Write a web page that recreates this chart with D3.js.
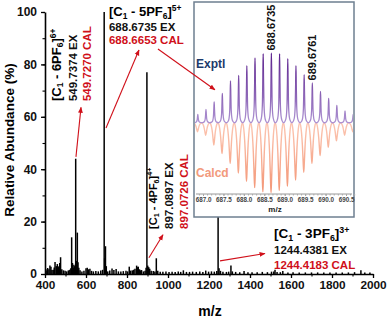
<!DOCTYPE html>
<html>
<head>
<meta charset="utf-8">
<script src="https://cdn.jsdelivr.net/npm/d3@7"></script>
<style>
  html, body { margin: 0; padding: 0; background: #fff; }
  svg { display: block; font-family: Arial, "Liberation Sans", sans-serif; font-weight: bold; }
</style>
</head>
<body>
<svg id="chart" width="387" height="318"></svg>
<script>
// ---- main spectrum (m/z, relative abundance %) ----
const peakMz = [405, 410, 413, 419, 424, 429, 434, 440, 445, 449, 455, 460, 465, 468, 472, 476, 482, 490, 498, 506,
  514, 521, 526, 530, 534, 538, 541, 545, 549.7, 553, 557.7, 561, 565, 571, 580, 590, 600, 606, 612, 619,
  627, 636, 648, 660, 672, 681, 688.7, 691, 695, 699, 706, 716, 727, 736, 747, 758, 770, 782, 795, 803,
  811, 818, 826, 833, 839, 847, 851, 855, 861, 867, 871, 880, 888, 893, 897.1, 901, 906, 911, 918, 928,
  936, 943, 950, 962, 975, 990, 1005, 1020, 1035, 1050, 1062, 1075, 1090, 1105, 1120, 1138, 1155, 1170, 1184, 1198,
  1212, 1226, 1238, 1244.4, 1249, 1256, 1268, 1285, 1296, 1307, 1314, 1330, 1350, 1371, 1390, 1410, 1435, 1460, 1485, 1505,
  1516, 1522, 1532, 1548, 1560, 1585, 1610, 1640, 1670, 1700, 1730, 1760, 1790, 1820, 1850, 1880, 1910, 1941, 1960, 1985];
const peakInt = [1.2, 1.8, 2.3, 1.8, 3.2, 2.8, 1.5, 1.6, 2.5, 4.6, 3.0, 3.8, 2.6, 3.0, 4.2, 6.4, 1.8, 1.4, 1.2, 1.0,
  1.4, 1.6, 2.2, 14, 4.2, 2.4, 3.5, 3.0, 44, 5.0, 15.8, 4.5, 2.4, 1.4, 1.0, 1.2, 2.2, 2.4, 1.8, 2.0,
  1.2, 1.0, 1.1, 1.0, 1.3, 1.6, 100, 6, 10.6, 3, 1.0, 1.3, 2.1, 1.5, 1.9, 1.0, 1.0, 1.1, 1.2, 1.0,
  2.8, 1.3, 1.4, 1.6, 2.0, 3.2, 2.6, 2.8, 1.8, 1.4, 1.5, 1.0, 1.2, 2.4, 77, 3.2, 2.6, 2.0, 1.2, 1.1,
  1.0, 6.0, 1.2, 0.9, 0.9, 1.0, 0.8, 0.9, 0.8, 1.0, 0.8, 1.4, 0.8, 0.8, 0.9, 0.8, 1.0, 0.8, 1.3, 0.9,
  1.0, 0.9, 1.1, 22, 2.2, 1.2, 0.9, 0.8, 0.9, 3.2, 1.0, 0.8, 0.7, 1.1, 0.7, 0.7, 0.7, 0.8, 0.7, 0.9,
  1.0, 1.6, 0.8, 0.7, 1.1, 0.6, 0.7, 0.6, 0.6, 0.6, 0.6, 0.6, 0.6, 0.6, 0.6, 0.6, 0.7, 1.4, 0.6, 0.6];

const xTicks = [400, 600, 800, 1000, 1200, 1400, 1600, 1800, 2000];
const xMinorTicks = d3.range(400, 2001, 100);
const yTicks = [0, 20, 40, 60, 80, 100];
const yMinorTicks = d3.range(0, 101, 10);

// ---- inset: isotope pattern of [C1 - 5PF6]5+ ----
const exptMz = [686.873, 687.073, 687.273, 687.473, 687.673, 687.873, 688.073, 688.273, 688.473, 688.6735,
  688.874, 689.075, 689.275, 689.476, 689.6761, 689.876, 690.076, 690.276, 690.476, 690.676];
const exptInt = [12, 19, 30, 42, 60, 68, 82, 93, 99, 100, 99, 92, 82, 69, 57, 45, 35, 25, 17, 12];
const calcMz = [686.865, 687.065, 687.265, 687.465, 687.665, 687.865, 688.065, 688.265, 688.465, 688.6653,
  688.866, 689.066, 689.266, 689.466, 689.666, 689.866, 690.066, 690.266, 690.466, 690.666];
const calcInt = [13, 18, 32, 44, 58, 72, 84, 93, 99, 100, 97, 91, 82, 71, 58, 47, 35, 26, 18, 13];
const insetTicks = [687.0, 687.5, 688.0, 688.5, 689.0, 689.5, 690.0, 690.5];
const insetLabels = ["688.6735", "689.6761"];

const RED = "#d0101a";

const svg = d3.select("#chart");

const x = d3.scaleLinear().domain([400, 2000]).range([45, 373]);
const y = d3.scaleLinear().domain([0, 100]).range([274, 12]);

// arrowhead marker
svg.append("defs")
  .append("marker")
  .attr("id", "arrow")
  .attr("viewBox", "0 0 10 10")
  .attr("refX", 9)
  .attr("refY", 5)
  .attr("markerWidth", 6)
  .attr("markerHeight", 6)
  .attr("markerUnits", "userSpaceOnUse")
  .attr("orient", "auto")
  .append("path")
  .attr("d", "M0,1L10,5L0,9z")
  .attr("fill", RED);

// sticks
svg.append("g")
  .selectAll("line")
  .data(peakMz)
  .enter()
  .append("line")
  .attr("x1", (d) => x(d))
  .attr("x2", (d) => x(d))
  .attr("y1", y(0))
  .attr("y2", (d, i) => y(peakInt[i]))
  .attr("stroke", "#000")
  .attr("stroke-width", 1.5);

// X axis
const xAxis = svg.append("g")
  .attr("transform", `translate(0,${y(0)})`)
  .call(d3.axisBottom(x).tickValues(xTicks).tickSize(4).tickSizeOuter(0).tickPadding(3).tickFormat(d3.format("d")));
xAxis.select(".domain").attr("stroke-width", 1.6);
xAxis.selectAll(".tick line").attr("stroke-width", 1.3);
xAxis.selectAll("text").attr("font-size", 11.8).attr("font-family", "Arial, Liberation Sans").attr("font-weight", "bold").attr("fill", "#111");
svg.append("g")
  .attr("transform", `translate(0,${y(0)})`)
  .call(d3.axisBottom(x).tickValues(xMinorTicks).tickSize(2.5).tickFormat(""))
  .call((g) => g.select(".domain").remove())
  .selectAll("line").attr("stroke-width", 1.1);

// Y axis
const yAxis = svg.append("g")
  .attr("transform", `translate(${x(400)},0)`)
  .call(d3.axisLeft(y).tickValues(yTicks).tickSize(4).tickSizeOuter(0).tickPadding(4));
yAxis.select(".domain").attr("stroke-width", 1.6);
yAxis.selectAll(".tick line").attr("stroke-width", 1.3);
yAxis.selectAll("text").attr("font-size", 12).attr("font-family", "Arial, Liberation Sans").attr("font-weight", "bold").attr("fill", "#111");
svg.append("g")
  .attr("transform", `translate(${x(400)},0)`)
  .call(d3.axisLeft(y).tickValues(yMinorTicks).tickSize(2.5).tickFormat(""))
  .call((g) => g.select(".domain").remove())
  .selectAll("line").attr("stroke-width", 1.1);

// axis titles
svg.append("text")
  .attr("x", 210)
  .attr("y", 316)
  .attr("text-anchor", "middle")
  .attr("font-size", 14)
  .text("m/z");
svg.append("text")
  .attr("transform", "translate(14,140) rotate(-90)")
  .attr("text-anchor", "middle")
  .attr("font-size", 13.5)
  .text("Relative Abundance (%)");

// formula helper: [C1 - nPF6]z+
function formula(sel, n, charge, fs) {
  sel.attr("font-size", fs);
  sel.append("tspan").text("[C");
  sel.append("tspan").attr("font-size", "65%").attr("dy", 2.5).text("1");
  sel.append("tspan").attr("dy", -2.5).text(" - " + n + "PF");
  sel.append("tspan").attr("font-size", "65%").attr("dy", 2.5).text("6");
  sel.append("tspan").attr("dy", -2.5).text("]");
  sel.append("tspan").attr("font-size", "65%").attr("dy", -5).text(charge);
}

// horizontal label block
function hLabel(mz, vals, n, charge, ex, cal, fs) {
  const g = svg.append("g").attr("font-size", 11.5);
  formula(g.append("text").attr("x", x(mz)).attr("y", y(vals[0])), n, charge, fs);
  g.append("text").attr("x", x(mz)).attr("y", y(vals[1])).attr("fill", "#111").text(ex + " EX");
  g.append("text").attr("x", x(mz)).attr("y", y(vals[2])).attr("fill", RED).text(cal + " CAL");
}

// vertical label block
function vLabel(mzs, val, n, charge, ex, cal, fs) {
  const g = svg.append("g").attr("font-size", 11.5);
  formula(g.append("text").attr("transform", `translate(${x(mzs[0])},${y(val)}) rotate(-90)`), n, charge, fs);
  g.append("text").attr("transform", `translate(${x(mzs[1])},${y(val)}) rotate(-90)`).attr("fill", "#111").text(ex + " EX");
  g.append("text").attr("transform", `translate(${x(mzs[2])},${y(val)}) rotate(-90)`).attr("fill", RED).text(cal + " CAL");
}

function arrow(from, to) {
  svg.append("line")
    .attr("x1", x(from[0])).attr("y1", y(from[1]))
    .attr("x2", x(to[0])).attr("y2", y(to[1]))
    .attr("stroke", RED)
    .attr("stroke-width", 1.1)
    .attr("marker-end", "url(#arrow)");
}

vLabel([478, 556, 624.4], 66, 6, "6+", "549.7374", "549.7270", 13);
hLabel(712, [98.3, 92.9, 87.6], 5, "5+", "688.6735", "688.6653", 13);
vLabel([946, 1026, 1096], 17.2, 4, "4+", "897.0897", "897.0726", 11);
hLabel(1517, [13.6, 7.5, 2.0], 3, "3+", "1244.4381", "1244.4183", 13.5);

arrow([551, 44.7], [575.6, 63.6]);
arrow([697.6, 55.7], [858.5, 85.5]);
arrow([907, 6.2], [975.6, 15]);
arrow([1253.7, 5.0], [1473, 7.8]);

// ---- inset ----
const box = { x: 194, y: 2, w: 160, h: 215 };
const ix = d3.scaleLinear().domain([687.0, 690.5]).range([203, 346]);
const iy = d3.scaleLinear().domain([-100, 100]).range([192.5, 53]);

const inset = svg.append("g");
inset.append("rect")
  .attr("x", box.x).attr("y", box.y).attr("width", box.w).attr("height", box.h)
  .attr("fill", "#fff")
  .attr("stroke", "#6e7f90")
  .attr("stroke-width", 1.5);

const defs = svg.select("defs");
defs.append("clipPath").attr("id", "insetClip")
  .append("rect").attr("x", box.x + 1).attr("y", box.y + 1).attr("width", box.w - 2).attr("height", box.h - 2);

const gradP = defs.append("linearGradient").attr("id", "gradP")
  .attr("gradientUnits", "userSpaceOnUse").attr("x1", 0).attr("x2", 0).attr("y1", iy(100)).attr("y2", iy(0));
gradP.append("stop").attr("offset", "0%").attr("stop-color", "#5a1f8c");
gradP.append("stop").attr("offset", "100%").attr("stop-color", "#ad92d2");
const gradC = defs.append("linearGradient").attr("id", "gradC")
  .attr("gradientUnits", "userSpaceOnUse").attr("x1", 0).attr("x2", 0).attr("y1", iy(0)).attr("y2", iy(-100));
gradC.append("stop").attr("offset", "0%").attr("stop-color", "#fcc6b2");
gradC.append("stop").attr("offset", "100%").attr("stop-color", "#f39676");

// peak profile template (half width in m/z, fraction of height)
const sharpShape = [[0.1, 0], [0.062, 0.03], [0.036, 0.1], [0.018, 0.3], [0.008, 0.66], [0, 1]];
const broadShape = [[0.1, 0], [0.078, 0.05], [0.055, 0.2], [0.033, 0.46], [0.014, 0.8], [0, 1]];

function profile(mzs, ints, shape, sign) {
  const pts = [];
  mzs.forEach((c, i) => {
    shape.forEach(([dx, f], k) => {
      if (k === 0 && i > 0) return;
      pts.push([c - dx, sign * f * ints[i]]);
    });
    shape.slice(0, -1).reverse().forEach(([dx, f]) => pts.push([c + dx, sign * f * ints[i]]));
  });
  pts.unshift([mzs[0] - 0.4, 0]);
  pts.push([mzs[mzs.length - 1] + 0.4, 0]);
  return pts;
}

const line = d3.line().x((d) => ix(d[0])).y((d) => iy(d[1])).curve(d3.curveMonotoneX);

const plot = inset.append("g").attr("clip-path", "url(#insetClip)");
plot.append("path")
  .datum(profile(calcMz, calcInt, broadShape, -1))
  .attr("fill", "none")
  .attr("stroke", "url(#gradC)")
  .attr("stroke-width", 1.4)
  .attr("d", line);
plot.append("path")
  .datum(profile(exptMz, exptInt, sharpShape, 1))
  .attr("fill", "none")
  .attr("stroke", "url(#gradP)")
  .attr("stroke-width", 1.3)
  .attr("d", line);

// inset axis
inset.append("line")
  .attr("x1", box.x + 2).attr("x2", box.x + box.w - 2)
  .attr("y1", 194).attr("y2", 194)
  .attr("stroke", "#999").attr("stroke-width", 1);
const iAxis = inset.append("g")
  .attr("transform", "translate(0,194)")
  .call(d3.axisBottom(ix).tickValues(insetTicks).tickSize(2).tickSizeOuter(0).tickPadding(2).tickFormat(d3.format(".1f")));
iAxis.select(".domain").remove();
iAxis.selectAll("line").attr("stroke", "#999");
iAxis.selectAll("text").attr("font-size", 6.3).attr("font-family", "Arial, Liberation Sans").attr("font-weight", "bold").attr("fill", "#444");
inset.append("g")
  .attr("transform", "translate(0,194)")
  .call(d3.axisBottom(ix).tickValues(d3.range(686.9, 690.71, 0.1)).tickSize(1.5).tickFormat(""))
  .call((g) => g.select(".domain").remove())
  .selectAll("line").attr("stroke", "#aaa");
inset.append("text")
  .attr("x", 275).attr("y", 212)
  .attr("text-anchor", "middle")
  .attr("font-size", 8)
  .attr("fill", "#222")
  .text("m/z");

inset.append("text")
  .attr("x", 196).attr("y", 68)
  .attr("font-size", 12)
  .attr("fill", "#1c3a6b")
  .text("Exptl");
inset.append("text")
  .attr("x", 196).attr("y", 177)
  .attr("font-size", 12)
  .attr("fill", "#f29a7c")
  .text("Calcd");

// peak labels above the marked isotope peaks
insetLabels.forEach((lbl) => {
  const i = exptMz.findIndex((m) => m.toFixed(4) === (+lbl).toFixed(4));
  inset.append("text")
    .attr("transform", `translate(${ix(exptMz[i]) + 4},${iy(exptInt[i]) - 2.5}) rotate(-90)`)
    .attr("font-size", 11)
    .attr("fill", "#111")
    .text(lbl);
});

// arrow from the 5+ label into the inset
arrow([951, 85.9], [1229, 70.3]);
</script>
</body>
</html>
